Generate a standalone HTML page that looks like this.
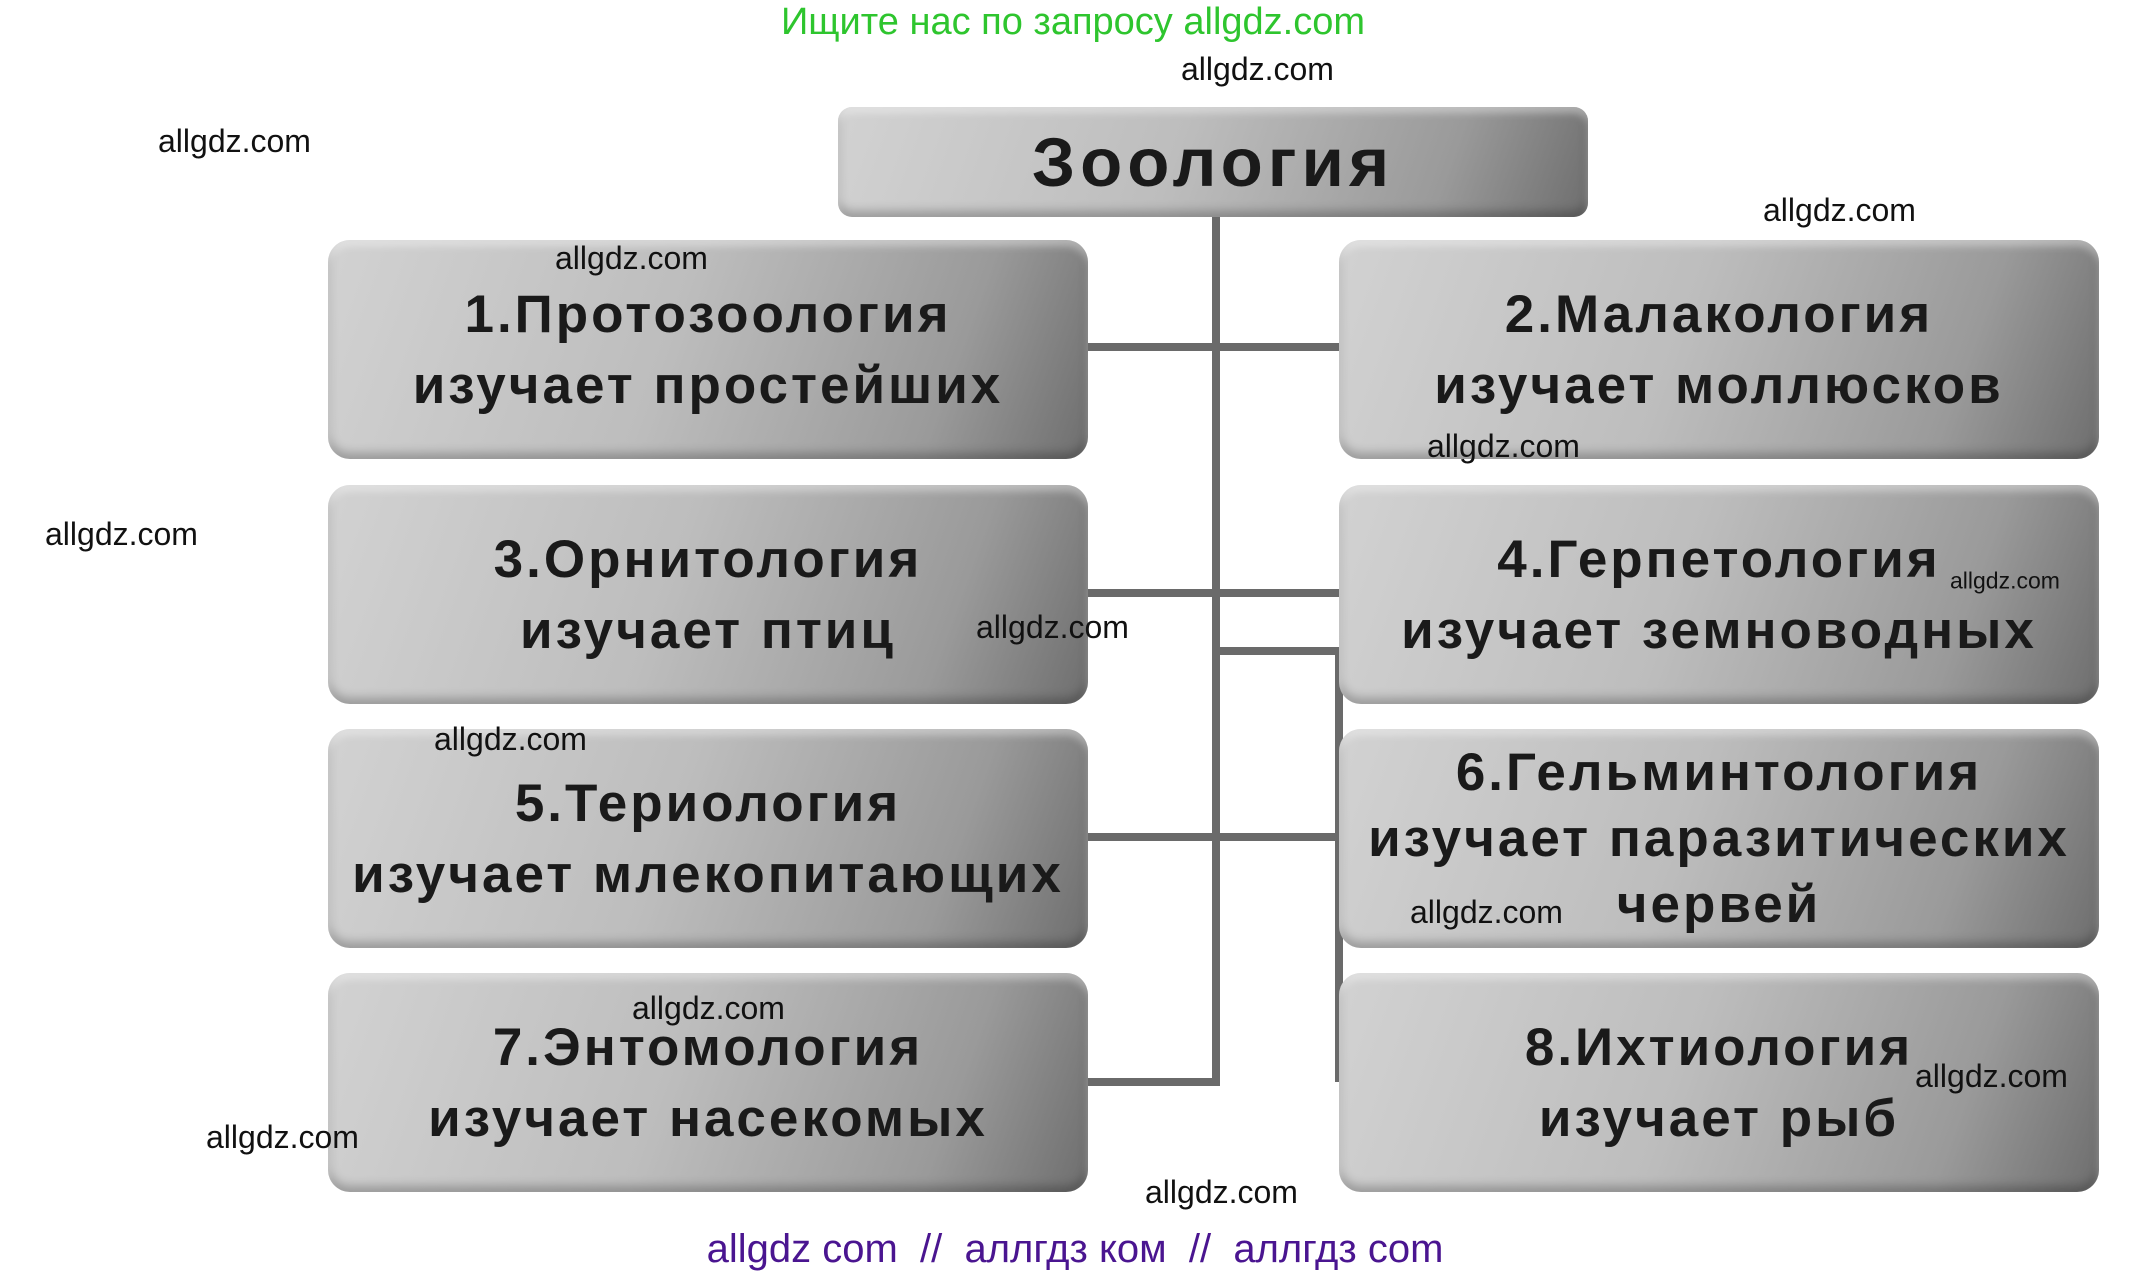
<!DOCTYPE html>
<html><head><meta charset="utf-8"><style>
body{margin:0;width:2146px;height:1273px;background:#fff;position:relative;overflow:hidden;font-family:"Liberation Sans",sans-serif}
.b{position:absolute;border-radius:22px;background:linear-gradient(110deg,#d2d2d2 0%,#bdbdbd 45%,#9a9a9a 80%,#6e6e6e 100%);box-shadow:inset 0 6px 8px rgba(255,255,255,.4),inset 0 -6px 10px rgba(0,0,0,.25);display:flex;flex-direction:column;justify-content:center;align-items:center;font-weight:bold;color:#1a1a1a;font-size:53px;line-height:71px;letter-spacing:3px;text-align:center;white-space:nowrap}
.l{position:absolute;width:760px;height:219px}
.L{left:328px}.R{left:1339px}
.h{position:absolute;background:#6a6a6a;height:8px}
.v{position:absolute;background:#6a6a6a;width:8px}
.w{position:absolute;font-size:32px;color:#111;line-height:1;transform:translateY(-50%)}
</style></head><body>
<div style="position:absolute;left:0;width:2146px;top:0;text-align:center;color:#2ec52e;font-size:38px;line-height:44px">Ищите нас по запросу allgdz.com</div>
<div class="v" style="left:1212px;top:210px;height:876px"></div>
<div class="h" style="left:1085px;top:343px;width:260px"></div>
<div class="h" style="left:1085px;top:589px;width:260px"></div>
<div class="h" style="left:1212px;top:647px;width:131px"></div>
<div class="v" style="left:1335px;top:647px;height:435px"></div>
<div class="h" style="left:1085px;top:833px;width:255px"></div>
<div class="h" style="left:1085px;top:1078px;width:135px"></div>
<div class="b" style="left:838px;top:107px;width:750px;height:110px;border-radius:14px;font-size:69px;letter-spacing:5px">Зоология</div>
<div class="b l L" style="top:240px">1.Протозоология<br>изучает простейших</div>
<div class="b l R" style="top:240px">2.Малакология<br>изучает моллюсков</div>
<div class="b l L" style="top:485px">3.Орнитология<br>изучает птиц</div>
<div class="b l R" style="top:485px">4.Герпетология<br>изучает земноводных</div>
<div class="b l L" style="top:729px">5.Териология<br>изучает млекопитающих</div>
<div class="b l R" style="top:729px;line-height:66px">6.Гельминтология<br>изучает паразитических<br>червей</div>
<div class="b l L" style="top:973px">7.Энтомология<br>изучает насекомых</div>
<div class="b l R" style="top:973px">8.Ихтиология<br>изучает рыб</div>
<div class="w" style="left:1181px;top:69px">allgdz.com</div>
<div class="w" style="left:158px;top:141px">allgdz.com</div>
<div class="w" style="left:1763px;top:210px">allgdz.com</div>
<div class="w" style="left:555px;top:258px">allgdz.com</div>
<div class="w" style="left:1427px;top:446px">allgdz.com</div>
<div class="w" style="left:45px;top:534px">allgdz.com</div>
<div class="w" style="left:1950px;top:581px;font-size:23px">allgdz.com</div>
<div class="w" style="left:976px;top:627px">allgdz.com</div>
<div class="w" style="left:434px;top:739px">allgdz.com</div>
<div class="w" style="left:1410px;top:912px">allgdz.com</div>
<div class="w" style="left:632px;top:1008px">allgdz.com</div>
<div class="w" style="left:1915px;top:1076px">allgdz.com</div>
<div class="w" style="left:206px;top:1137px">allgdz.com</div>
<div class="w" style="left:1145px;top:1192px">allgdz.com</div>
<div style="position:absolute;left:0;width:2150px;top:1226px;text-align:center;color:#4a1590;font-size:40px;line-height:46px;white-space:pre">allgdz com  //  аллгдз ком  //  аллгдз com</div>
</body></html>
